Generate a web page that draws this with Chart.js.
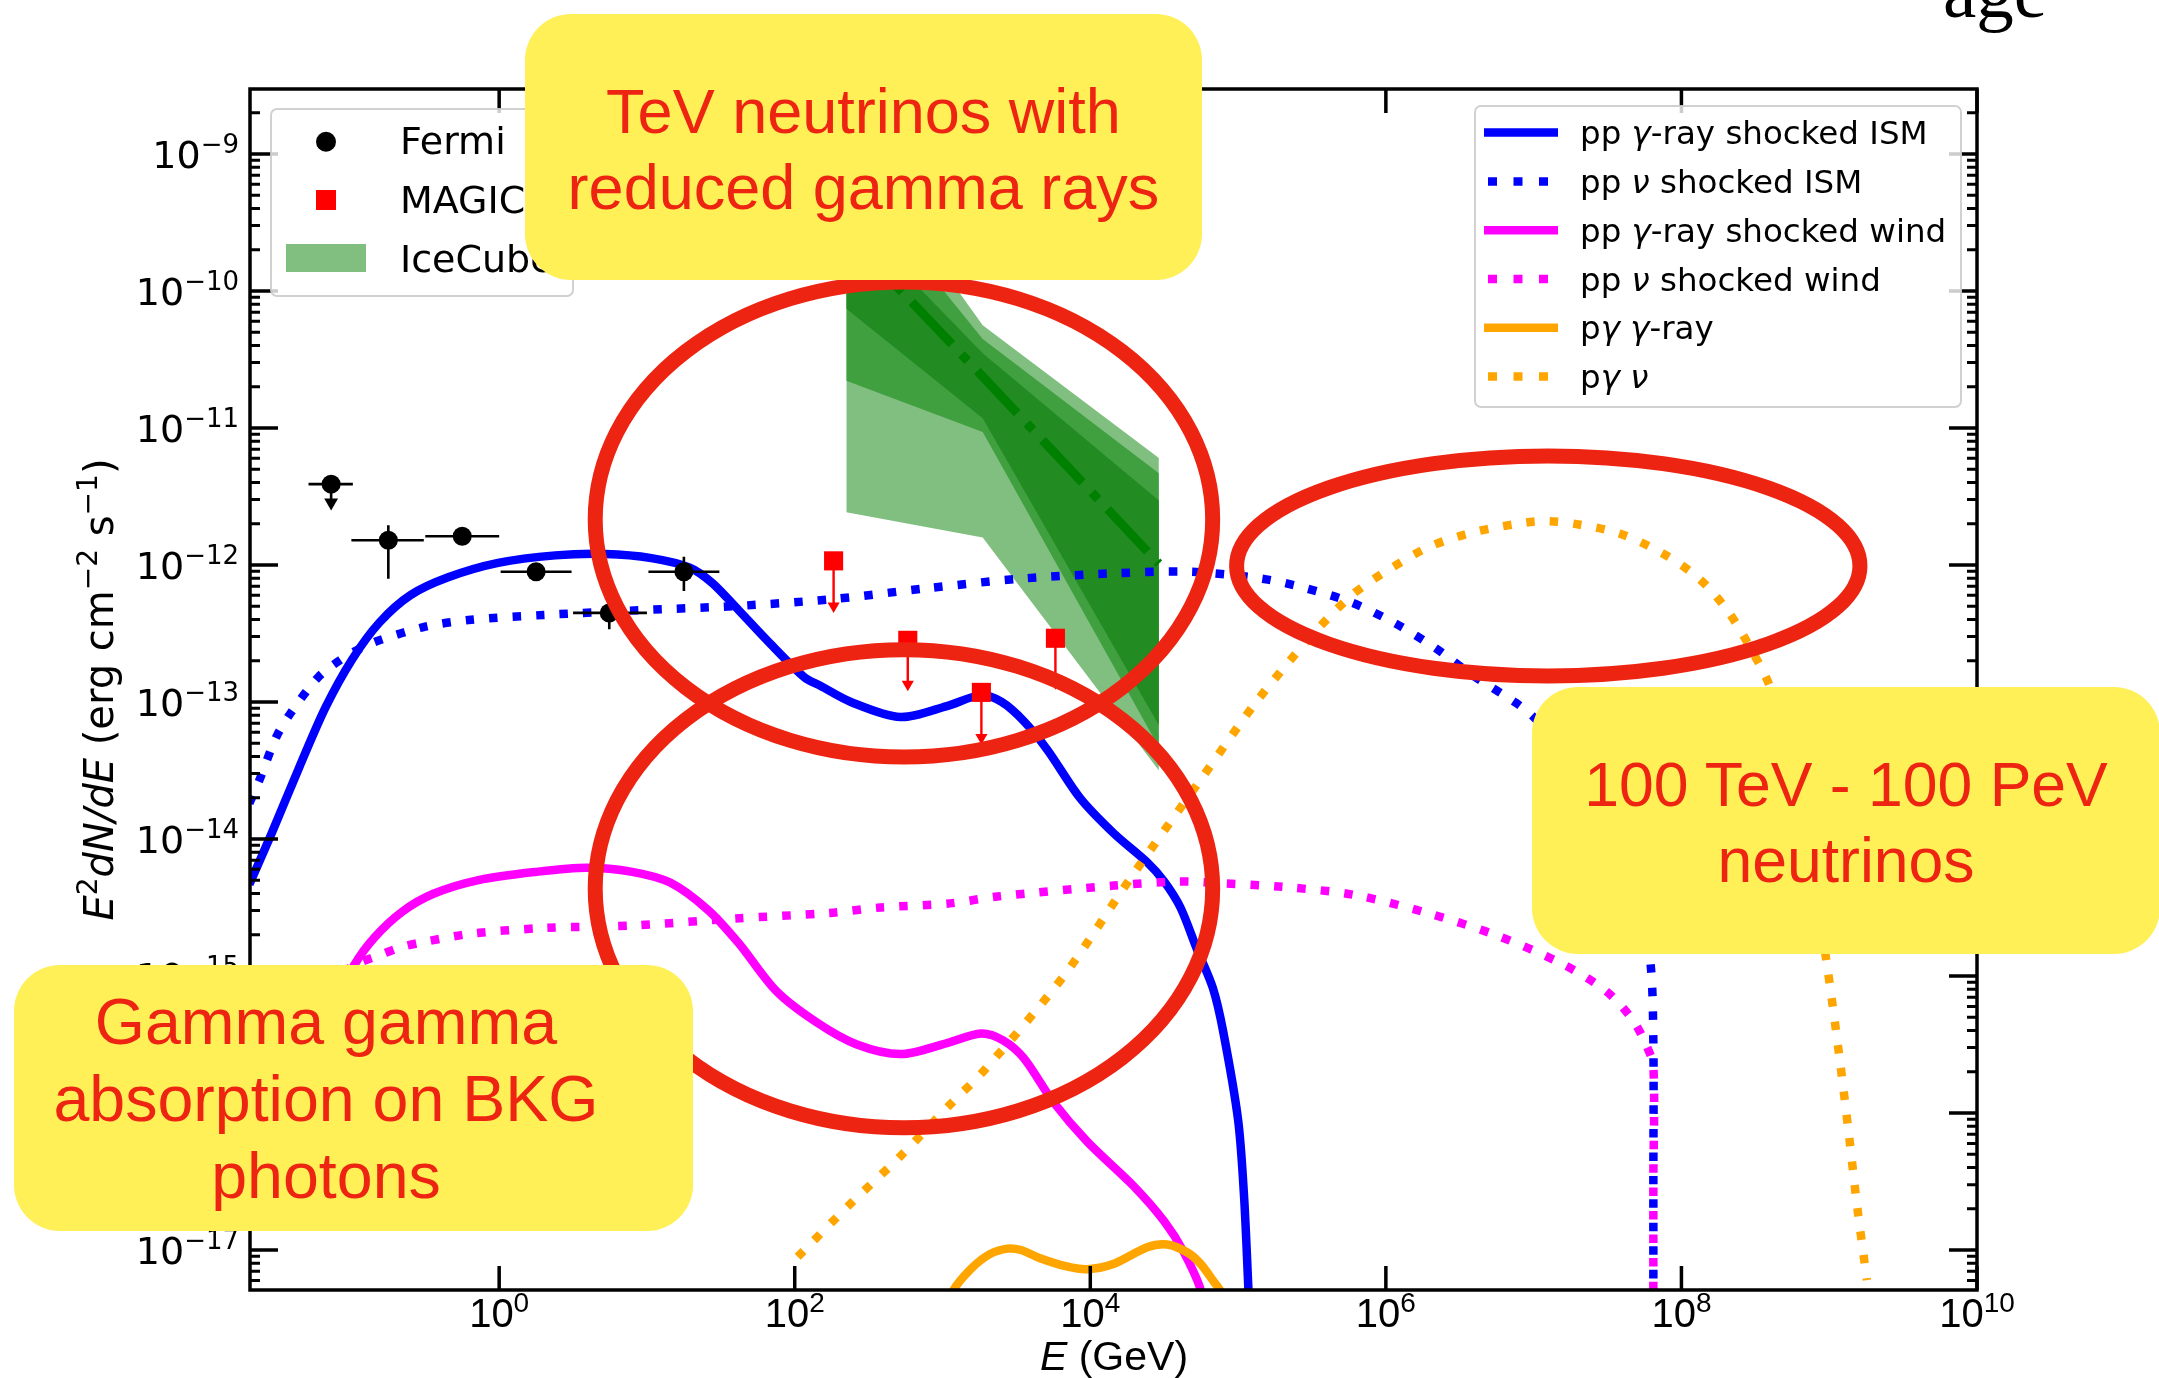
<!DOCTYPE html>
<html>
<head>
<meta charset="utf-8">
<script src="https://cdn.jsdelivr.net/npm/chart.js@4.4.1/dist/chart.umd.min.js"></script>
<style>
html,body{margin:0;padding:0;background:#fff;overflow:hidden;}
#wrap{position:relative;width:2159px;height:1378px;overflow:hidden;background:#fff;}
#c{position:absolute;left:0;top:0;}
.box{position:absolute;box-sizing:border-box;background:rgb(255,240,88);border-radius:46px;color:rgb(238,36,18);
 font-family:"Liberation Sans",Arial,sans-serif;text-align:center;display:flex;align-items:center;justify-content:center;padding-top:3px;}
.age{position:absolute;font-family:"Liberation Serif","DejaVu Serif",serif;color:#000;white-space:nowrap;}
</style>
</head>
<body>
<div id="wrap">
<canvas id="c" width="2159" height="1378"></canvas>
<div class="age" style="left:1943px;top:-46px;font-size:75px;line-height:75px;">age</div>
<div class="age" style="left:1910px;top:-45px;font-size:48px;line-height:48px;">v</div>
<div class="box" style="left:525px;top:14px;width:677px;height:266px;font-size:63px;line-height:76px;">TeV neutrinos with<br>reduced gamma rays</div>
<div class="box" style="left:1532px;top:687px;width:628px;height:267px;font-size:62.5px;line-height:76.5px;">100 TeV - 100 PeV<br>neutrinos</div>
<div class="box" style="left:14px;top:965px;width:679px;height:266px;font-size:64.5px;line-height:77px;padding-right:55px;">Gamma gamma<br>absorption on BKG<br>photons</div>
</div>
<script>
// ---------------- DATA (log10 E [GeV], log10 E^2 dN/dE [erg cm^-2 s^-1]) ----------------
const xLogMin = -1.686, xLogMax = 10;
const yLogMin = -17.292, yLogMax = -8.526;

const xTickExps = [0, 2, 4, 6, 8, 10];
const yTickExps = [-17, -16, -15, -14, -13, -12, -11, -10, -9];
const yMinorMultipliers = [2, 3, 4, 5, 6, 7, 8, 9];

// Fermi points
const fermiLogE   = [-1.137, -0.75, -0.25, 0.25, 0.745, 1.25];
const fermiLogF   = [-11.41, -11.82, -11.79, -12.05, -12.35, -12.05];
const fermiLogElo = [-1.29, -1.0, -0.5, 0.01, 0.5, 1.01];
const fermiLogEhi = [-0.99, -0.51, 0.0, 0.49, 1.0, 1.49];
const fermiLogFlo = [null, -12.10, null, null, -12.47, -12.19];
const fermiLogFhi = [null, -11.71, null, null, -12.28, -11.94];
const fermiULend  = [-11.545, null, null, null, null, null];

// MAGIC upper limits
const magicLogE = [2.263, 2.765, 3.263, 3.764];
const magicLogF = [-11.97, -12.55, -12.93, -12.535];
const magicULend = [-12.30, -12.87, -13.26, -12.86];

// IceCube band
const iceLogE     = [2.349, 3.272, 4.464];
const iceLightHi  = [-8.86, -10.25, -11.22];
const iceLightLo  = [-11.615, -11.80, -13.50];
const iceMedHi    = [-9.12, -10.35, -11.33];
const iceMedLo    = [-10.655, -11.03, -13.33];
const iceDarkHi   = [-9.43, -10.455, -11.53];
const iceDarkLo   = [-10.13, -10.93, -13.17];
const iceBest     = [-9.58, -10.625, -11.99];

// model curves [log10 E, log10 F]
const ppGammaISM = [[-1.69,-14.33],[-1.54,-13.96],[-1.35,-13.47],[-1.175,-13.04],[-0.995,-12.69],[-0.81,-12.42],[-0.60,-12.22],[-0.345,-12.09],[-0.007,-11.985],[0.38,-11.93],[0.72,-11.92],[1.03,-11.95],[1.29,-12.02],[1.44,-12.13],[1.62,-12.33],[1.83,-12.57],[2.065,-12.82],[2.17,-12.88],[2.38,-13.0],[2.715,-13.11],[3.03,-13.03],[3.26,-12.95],[3.40,-13.0],[3.55,-13.14],[3.71,-13.35],[3.93,-13.70],[4.16,-13.96],[4.385,-14.17],[4.50,-14.31],[4.61,-14.50],[4.72,-14.80],[4.83,-15.09],[4.90,-15.41],[5.00,-16.05],[5.04,-16.60],[5.07,-17.29],[5.09,-17.8]];
const ppNuISM = [[-1.69,-13.74],[-1.615,-13.55],[-1.51,-13.26],[-1.41,-13.08],[-1.225,-12.82],[-1.07,-12.69],[-0.94,-12.61],[-0.81,-12.55],[-0.50,-12.45],[-0.19,-12.40],[0.30,-12.365],[0.95,-12.33],[1.60,-12.30],[2.25,-12.25],[2.895,-12.17],[3.53,-12.10],[4.18,-12.06],[4.68,-12.05],[5.16,-12.10],[5.46,-12.17],[5.77,-12.275],[6.07,-12.43],[6.34,-12.61],[6.58,-12.80],[6.885,-13.01],[7.01,-13.12],[7.25,-13.4],[7.5,-13.85],[7.7,-14.4],[7.79,-14.9],[7.81,-15.5],[7.81,-16.5],[7.81,-17.8]];
const ppGammaWind = [[-1.69,-16.62],[-1.54,-16.25],[-1.35,-15.76],[-1.175,-15.33],[-0.98,-14.92],[-0.84,-14.715],[-0.655,-14.53],[-0.445,-14.40],[-0.14,-14.30],[0.25,-14.24],[0.59,-14.21],[0.90,-14.24],[1.16,-14.32],[1.415,-14.52],[1.62,-14.76],[1.875,-15.11],[2.15,-15.34],[2.42,-15.50],[2.72,-15.57],[3.03,-15.49],[3.26,-15.42],[3.41,-15.47],[3.55,-15.60],[3.75,-15.92],[3.98,-16.21],[4.29,-16.53],[4.50,-16.79],[4.63,-17.01],[4.75,-17.30],[4.82,-17.7]];
const ppNuWind = [[-1.69,-16.03],[-1.51,-15.55],[-1.225,-15.11],[-1.07,-14.98],[-0.94,-14.90],[-0.815,-14.85],[-0.665,-14.79],[-0.50,-14.75],[-0.18,-14.69],[0.30,-14.65],[0.93,-14.63],[1.60,-14.58],[2.235,-14.54],[2.58,-14.50],[3.05,-14.47],[3.37,-14.42],[4.16,-14.34],[4.59,-14.31],[4.83,-14.32],[5.31,-14.35],[5.795,-14.41],[6.28,-14.54],[6.74,-14.70],[7.19,-14.91],[7.49,-15.11],[7.67,-15.32],[7.76,-15.50],[7.81,-15.66],[7.81,-16.5],[7.81,-17.8]];
const pgGamma = [[2.95,-17.6],[3.07,-17.30],[3.19,-17.14],[3.32,-17.03],[3.44,-16.99],[3.53,-17.00],[3.66,-17.06],[3.84,-17.12],[3.98,-17.14],[4.16,-17.10],[4.385,-16.98],[4.52,-16.96],[4.66,-17.02],[4.745,-17.10],[4.835,-17.23],[4.88,-17.30],[4.96,-17.6]];
const pgNu = [[2.02,-17.05],[2.37,-16.67],[2.72,-16.31],[3.05,-15.94],[3.29,-15.68],[3.82,-15.00],[4.27,-14.29],[4.745,-13.57],[5.13,-12.99],[5.495,-12.52],[5.77,-12.22],[6.04,-12.02],[6.31,-11.86],[6.615,-11.755],[6.95,-11.69],[7.1,-11.68],[7.28,-11.70],[7.58,-11.77],[7.88,-11.92],[8.12,-12.10],[8.31,-12.33],[8.49,-12.65],[8.61,-12.92],[8.75,-13.5],[8.88,-14.2],[8.985,-14.92],[9.07,-15.60],[9.135,-16.175],[9.19,-16.69],[9.255,-17.22]];

// annotation ellipses (centre and half-axes in decades)
const ellipseCenters = [[2.739, -11.668], [2.739, -14.363], [7.099, -12.007]];
const ellipseRadii   = [[2.089, 1.734], [2.089, 1.745], [2.109, 0.803]];

const legend1Labels = ['Fermi', 'MAGIC', 'IceCube'];

// ---------------- helpers ----------------
const P = (lx, ly) => ({x: Math.pow(10, lx), y: Math.pow(10, ly)});
const curvePts = arr => arr.map(p => P(p[0], p[1]));
const bandPts = ys => iceLogE.map((e, i) => P(e, ys[i]));

const BLUE = 'rgb(0,0,255)', MAG = 'rgb(255,0,255)', ORA = 'rgb(255,165,0)';
const RED_ANN = 'rgb(238,36,18)';
const LW = 8.5, DOT = [8.5, 15], DOT_PERIOD = 23.5;

function curve(pts, color, dotted, order) {
  return {type: 'line', data: curvePts(pts), borderColor: color, borderWidth: LW,
    borderDash: dotted ? DOT : [], borderDashOffset: 0, borderCapStyle: 'butt', borderJoinStyle: 'round',
    pointRadius: 0, tension: 0.3, fill: false, clip: 0, order};
}

const fermiXerr = [];
fermiLogE.forEach((e, i) => { fermiXerr.push(P(fermiLogElo[i], fermiLogF[i]), P(fermiLogEhi[i], fermiLogF[i]), {x: Math.pow(10, fermiLogEhi[i]), y: null}); });
const fermiYerr = [];
fermiLogE.forEach((e, i) => { if (fermiLogFlo[i] !== null) fermiYerr.push(P(e, fermiLogFlo[i]), P(e, fermiLogFhi[i]), {x: Math.pow(10, e), y: null}); });
const fermiULline = [], fermiULhead = [];
fermiLogE.forEach((e, i) => { if (fermiULend[i] !== null) { fermiULline.push(P(e, fermiLogF[i]), P(e, fermiULend[i]), {x: Math.pow(10, e), y: null}); fermiULhead.push(P(e, fermiULend[i])); } });
const magicLine = [], magicHead = [];
magicLogE.forEach((e, i) => { magicLine.push(P(e, magicLogF[i]), P(e, magicULend[i]), {x: Math.pow(10, e), y: null}); magicHead.push(P(e, magicULend[i])); });

const datasets = [
  {data: bandPts(iceLightHi), borderWidth: 0, pointRadius: 0, tension: 0, fill: {target: 1}, backgroundColor: 'rgb(128,191,128)', order: 100, clip: 0},
  {data: bandPts(iceLightLo), borderWidth: 0, pointRadius: 0, tension: 0, fill: false, order: 100, clip: 0},
  {data: bandPts(iceMedHi), borderWidth: 0, pointRadius: 0, tension: 0, fill: {target: 3}, backgroundColor: 'rgb(64,160,64)', order: 99, clip: 0},
  {data: bandPts(iceMedLo), borderWidth: 0, pointRadius: 0, tension: 0, fill: false, order: 99, clip: 0},
  {data: bandPts(iceDarkHi), borderWidth: 0, pointRadius: 0, tension: 0, fill: {target: 5}, backgroundColor: 'rgb(34,139,34)', order: 98, clip: 0},
  {data: bandPts(iceDarkLo), borderWidth: 0, pointRadius: 0, tension: 0, fill: false, order: 98, clip: 0},
  {data: bandPts(iceBest), borderColor: 'rgb(0,128,0)', borderWidth: 9, borderDash: [58, 14, 9, 14], borderCapStyle: 'butt', pointRadius: 0, tension: 0, fill: false, order: 97, clip: 0},
  curve(ppGammaISM, BLUE, false, 60),   // 7
  curve(ppNuISM, BLUE, true, 59),       // 8
  curve(ppGammaWind, MAG, false, 58),   // 9
  curve(ppNuWind, MAG, true, 57),       // 10
  curve(pgGamma, ORA, false, 56),       // 11
  curve(pgNu, ORA, true, 55),           // 12
  {data: fermiXerr, borderColor: '#000', borderWidth: 2.6, pointRadius: 0, spanGaps: false, tension: 0, fill: false, order: 20, clip: 0},
  {data: fermiYerr, borderColor: '#000', borderWidth: 2.6, pointRadius: 0, spanGaps: false, tension: 0, fill: false, order: 20, clip: 0},
  {data: fermiULline, borderColor: '#000', borderWidth: 2.6, pointRadius: 0, spanGaps: false, tension: 0, fill: false, order: 20, clip: 0},
  {data: fermiULhead, showLine: false, pointStyle: 'triangle', rotation: 180, pointRadius: 8, pointBackgroundColor: '#000', pointBorderWidth: 0, order: 19, clip: 0},
  {data: fermiLogE.map((e, i) => P(e, fermiLogF[i])), showLine: false, pointStyle: 'circle', pointRadius: 9.5, pointBackgroundColor: '#000', pointBorderWidth: 0, order: 10, clip: 0},
  {data: magicLine, borderColor: 'rgb(255,0,0)', borderWidth: 2.4, pointRadius: 0, spanGaps: false, tension: 0, fill: false, order: 12, clip: 0},
  {data: magicHead, showLine: false, pointStyle: 'triangle', rotation: 180, pointRadius: 7, pointBackgroundColor: 'rgb(255,0,0)', pointBorderWidth: 0, order: 11, clip: 0},
  {data: magicLogE.map((e, i) => P(e, magicLogF[i])), showLine: false, pointStyle: 'rect', pointRadius: 13.5, pointBackgroundColor: 'rgb(255,0,0)', pointBorderWidth: 0, order: 9, clip: 0}
];

function supStr(n) { return n < 0 ? '\u2212' + String(-n) : String(n); }
function richWidth(ctx, segs) { let w = 0; segs.forEach(s => { ctx.font = s.f; w += ctx.measureText(s.t).width; }); return w; }
function drawRich(ctx, segs, x, y) { let cx = x; segs.forEach(s => { ctx.font = s.f; ctx.fillText(s.t, cx, y - (s.dy || 0)); cx += ctx.measureText(s.t).width; }); }

const deco = {
  id: 'deco',
  afterDatasetsDraw(chart) {
    const ctx = chart.ctx, a = chart.chartArea, xs = chart.scales.x, ys = chart.scales.y;
    ctx.save();
    ctx.strokeStyle = '#000';
    ctx.lineCap = 'butt';
    ctx.lineWidth = 3.5;
    xTickExps.forEach(e => {
      const px = xs.getPixelForValue(Math.pow(10, e));
      ctx.beginPath();
      ctx.moveTo(px, a.bottom); ctx.lineTo(px, a.bottom - 24);
      ctx.moveTo(px, a.top); ctx.lineTo(px, a.top + 24);
      ctx.stroke();
    });
    yTickExps.forEach(e => {
      const py = ys.getPixelForValue(Math.pow(10, e));
      ctx.beginPath();
      ctx.moveTo(a.left, py); ctx.lineTo(a.left + 28, py);
      ctx.moveTo(a.right, py); ctx.lineTo(a.right - 28, py);
      ctx.stroke();
    });
    ctx.lineWidth = 3;
    for (let e = -18; e <= -9; e++) {
      yMinorMultipliers.forEach(k => {
        const v = k * Math.pow(10, e);
        if (v <= Math.pow(10, yLogMin) || v >= Math.pow(10, yLogMax)) return;
        const py = ys.getPixelForValue(v);
        ctx.beginPath();
        ctx.moveTo(a.left, py); ctx.lineTo(a.left + 10, py);
        ctx.moveTo(a.right, py); ctx.lineTo(a.right - 10, py);
        ctx.stroke();
      });
    }
    ctx.lineWidth = 3.5;
    ctx.strokeRect(a.left, a.top, a.right - a.left, a.bottom - a.top);

    // ellipses
    ctx.strokeStyle = RED_ANN; ctx.lineWidth = 15;
    ellipseCenters.forEach((c, i) => {
      const cx = xs.getPixelForValue(Math.pow(10, c[0]));
      const cy = ys.getPixelForValue(Math.pow(10, c[1]));
      const rx = xs.getPixelForValue(Math.pow(10, c[0] + ellipseRadii[i][0])) - cx;
      const ry = cy - ys.getPixelForValue(Math.pow(10, c[1] + ellipseRadii[i][1]));
      ctx.beginPath(); ctx.ellipse(cx, cy, rx, ry, 0, 0, 2 * Math.PI); ctx.stroke();
    });

    // legend 1
    ctx.fillStyle = 'rgba(255,255,255,0.8)'; ctx.strokeStyle = 'rgba(204,204,204,0.9)'; ctx.lineWidth = 2;
    ctx.beginPath(); ctx.roundRect(271, 109, 302, 187, 6); ctx.fill(); ctx.stroke();
    ctx.fillStyle = '#000';
    ctx.beginPath(); ctx.arc(326, 141.7, 10, 0, 2 * Math.PI); ctx.fill();
    ctx.fillStyle = 'rgb(255,0,0)'; ctx.fillRect(316, 190, 20, 20);
    ctx.fillStyle = 'rgb(128,191,128)'; ctx.fillRect(286, 244, 80, 28);
    ctx.fillStyle = '#000'; ctx.font = "38px 'DejaVu Sans'"; ctx.textAlign = 'left'; ctx.textBaseline = 'alphabetic';
    [154.3, 212.7, 271.7].forEach((by, i) => ctx.fillText(legend1Labels[i], 400, by));

    // legend 2
    ctx.fillStyle = 'rgba(255,255,255,0.8)'; ctx.strokeStyle = 'rgba(204,204,204,0.9)'; ctx.lineWidth = 2;
    ctx.beginPath(); ctx.roundRect(1475, 106, 486, 301, 6); ctx.fill(); ctx.stroke();
    const N = "32.5px 'DejaVu Sans'", I = "italic 32.5px 'DejaVu Sans'";
    const leg2 = [
      {c: BLUE, d: false, s: [{t: 'pp ', f: N}, {t: '\u03b3', f: I}, {t: '-ray shocked ISM', f: N}]},
      {c: BLUE, d: true, s: [{t: 'pp ', f: N}, {t: '\u03bd', f: I}, {t: ' shocked ISM', f: N}]},
      {c: MAG, d: false, s: [{t: 'pp ', f: N}, {t: '\u03b3', f: I}, {t: '-ray shocked wind', f: N}]},
      {c: MAG, d: true, s: [{t: 'pp ', f: N}, {t: '\u03bd', f: I}, {t: ' shocked wind', f: N}]},
      {c: ORA, d: false, s: [{t: 'p', f: N}, {t: '\u03b3', f: I}, {t: ' ', f: N}, {t: '\u03b3', f: I}, {t: '-ray', f: N}]},
      {c: ORA, d: true, s: [{t: 'p', f: N}, {t: '\u03b3', f: I}, {t: ' ', f: N}, {t: '\u03bd', f: I}]}
    ];
    leg2.forEach((r, i) => {
      const yy = 132.6 + i * 48.8;
      ctx.strokeStyle = r.c; ctx.lineWidth = LW; ctx.lineCap = 'butt';
      ctx.setLineDash(r.d ? [9, 16.5] : []);
      ctx.beginPath(); ctx.moveTo(r.d ? 1488 : 1484, yy); ctx.lineTo(1558, yy); ctx.stroke();
      ctx.setLineDash([]);
      ctx.fillStyle = '#000';
      drawRich(ctx, r.s, 1580, yy + 11.5);
    });

    // tick labels
    ctx.fillStyle = '#000'; ctx.textAlign = 'left'; ctx.textBaseline = 'alphabetic';
    const XB = "40px 'Liberation Sans'", XS = "28px 'Liberation Sans'";
    xTickExps.forEach(e => {
      const px = xs.getPixelForValue(Math.pow(10, e));
      const segs = [{t: '10', f: XB}, {t: supStr(e), f: XS, dy: 15}];
      const w = richWidth(ctx, segs);
      drawRich(ctx, segs, px - w / 2, 1327);
    });
    const YB = "38px 'DejaVu Sans'", YS = "26px 'DejaVu Sans'";
    yTickExps.forEach(e => {
      const py = ys.getPixelForValue(Math.pow(10, e));
      const segs = [{t: '10', f: YB}, {t: supStr(e), f: YS, dy: 15}];
      const w = richWidth(ctx, segs);
      drawRich(ctx, segs, 239 - w, py + 14);
    });

    // axis titles
    const xt = [{t: 'E', f: "italic 41px 'Liberation Sans'"}, {t: ' (GeV)', f: "41px 'Liberation Sans'"}];
    drawRich(ctx, xt, 1114 - richWidth(ctx, xt) / 2, 1370);
    const F40 = "40px 'DejaVu Sans'", I40 = "italic 40px 'DejaVu Sans'", S28 = "28px 'DejaVu Sans'";
    const yt = [{t: 'E', f: I40}, {t: '2', f: S28, dy: 16}, {t: 'dN/dE', f: I40}, {t: ' (erg cm', f: F40}, {t: '\u22122', f: S28, dy: 16}, {t: ' s', f: F40}, {t: '\u22121', f: S28, dy: 16}, {t: ')', f: F40}];
    ctx.translate(113, (a.top + a.bottom) / 2);
    ctx.rotate(-Math.PI / 2);
    drawRich(ctx, yt, -richWidth(ctx, yt) / 2, 0);
    ctx.restore();
  }
};

const chart = new Chart(document.getElementById('c'), {
  type: 'line',
  data: {datasets},
  options: {
    responsive: false, animation: false, devicePixelRatio: 1,
    layout: {padding: {left: 0, right: 182, top: 89, bottom: 0}},
    plugins: {legend: {display: false}, tooltip: {enabled: false}, filler: {propagate: false}},
    events: [],
    scales: {
      x: {type: 'logarithmic', min: Math.pow(10, xLogMin), max: Math.pow(10, xLogMax),
          grid: {display: false}, border: {display: false}, ticks: {display: false},
          afterFit: s => { s.height = 88; }},
      y: {type: 'logarithmic', min: Math.pow(10, yLogMin), max: Math.pow(10, yLogMax),
          grid: {display: false}, border: {display: false}, ticks: {display: false},
          afterFit: s => { s.width = 250; }}
    }
  },
  plugins: [deco]
});

// Interleave the dots of the two vertical dotted drops (blue / magenta) at the same energy
function bezLen(x0, y0, x1, y1, x2, y2, x3, y3) {
  let L = 0, px = x0, py = y0;
  for (let k = 1; k <= 40; k++) {
    const t = k / 40, u = 1 - t;
    const x = u*u*u*x0 + 3*u*u*t*x1 + 3*u*t*t*x2 + t*t*t*x3;
    const y = u*u*u*y0 + 3*u*u*t*y1 + 3*u*t*t*y2 + t*t*t*y3;
    L += Math.hypot(x - px, y - py); px = x; py = y;
  }
  return L;
}
function lenTo(dsIndex, idx) {
  const pts = chart.getDatasetMeta(dsIndex).data; let L = 0;
  for (let i = 1; i <= idx; i++) {
    const p = pts[i - 1], q = pts[i];
    const c1x = p.cp2x ?? p.x, c1y = p.cp2y ?? p.y, c2x = q.cp1x ?? q.x, c2y = q.cp1y ?? q.y;
    L += bezLen(p.x, p.y, c1x, c1y, c2x, c2y, q.x, q.y);
  }
  return L;
}
try {
  const Lb = lenTo(8, ppNuISM.length - 2);
  const Lm = lenTo(10, ppNuWind.length - 2);
  const pb = ((Lb % DOT_PERIOD) + DOT_PERIOD) % DOT_PERIOD;
  let off = (pb - DOT_PERIOD / 2 - Lm) % DOT_PERIOD;
  off = (off + DOT_PERIOD) % DOT_PERIOD;
  chart.data.datasets[10].borderDashOffset = off;
  chart.update('none');
} catch (e) {}
</script>
</body>
</html>
